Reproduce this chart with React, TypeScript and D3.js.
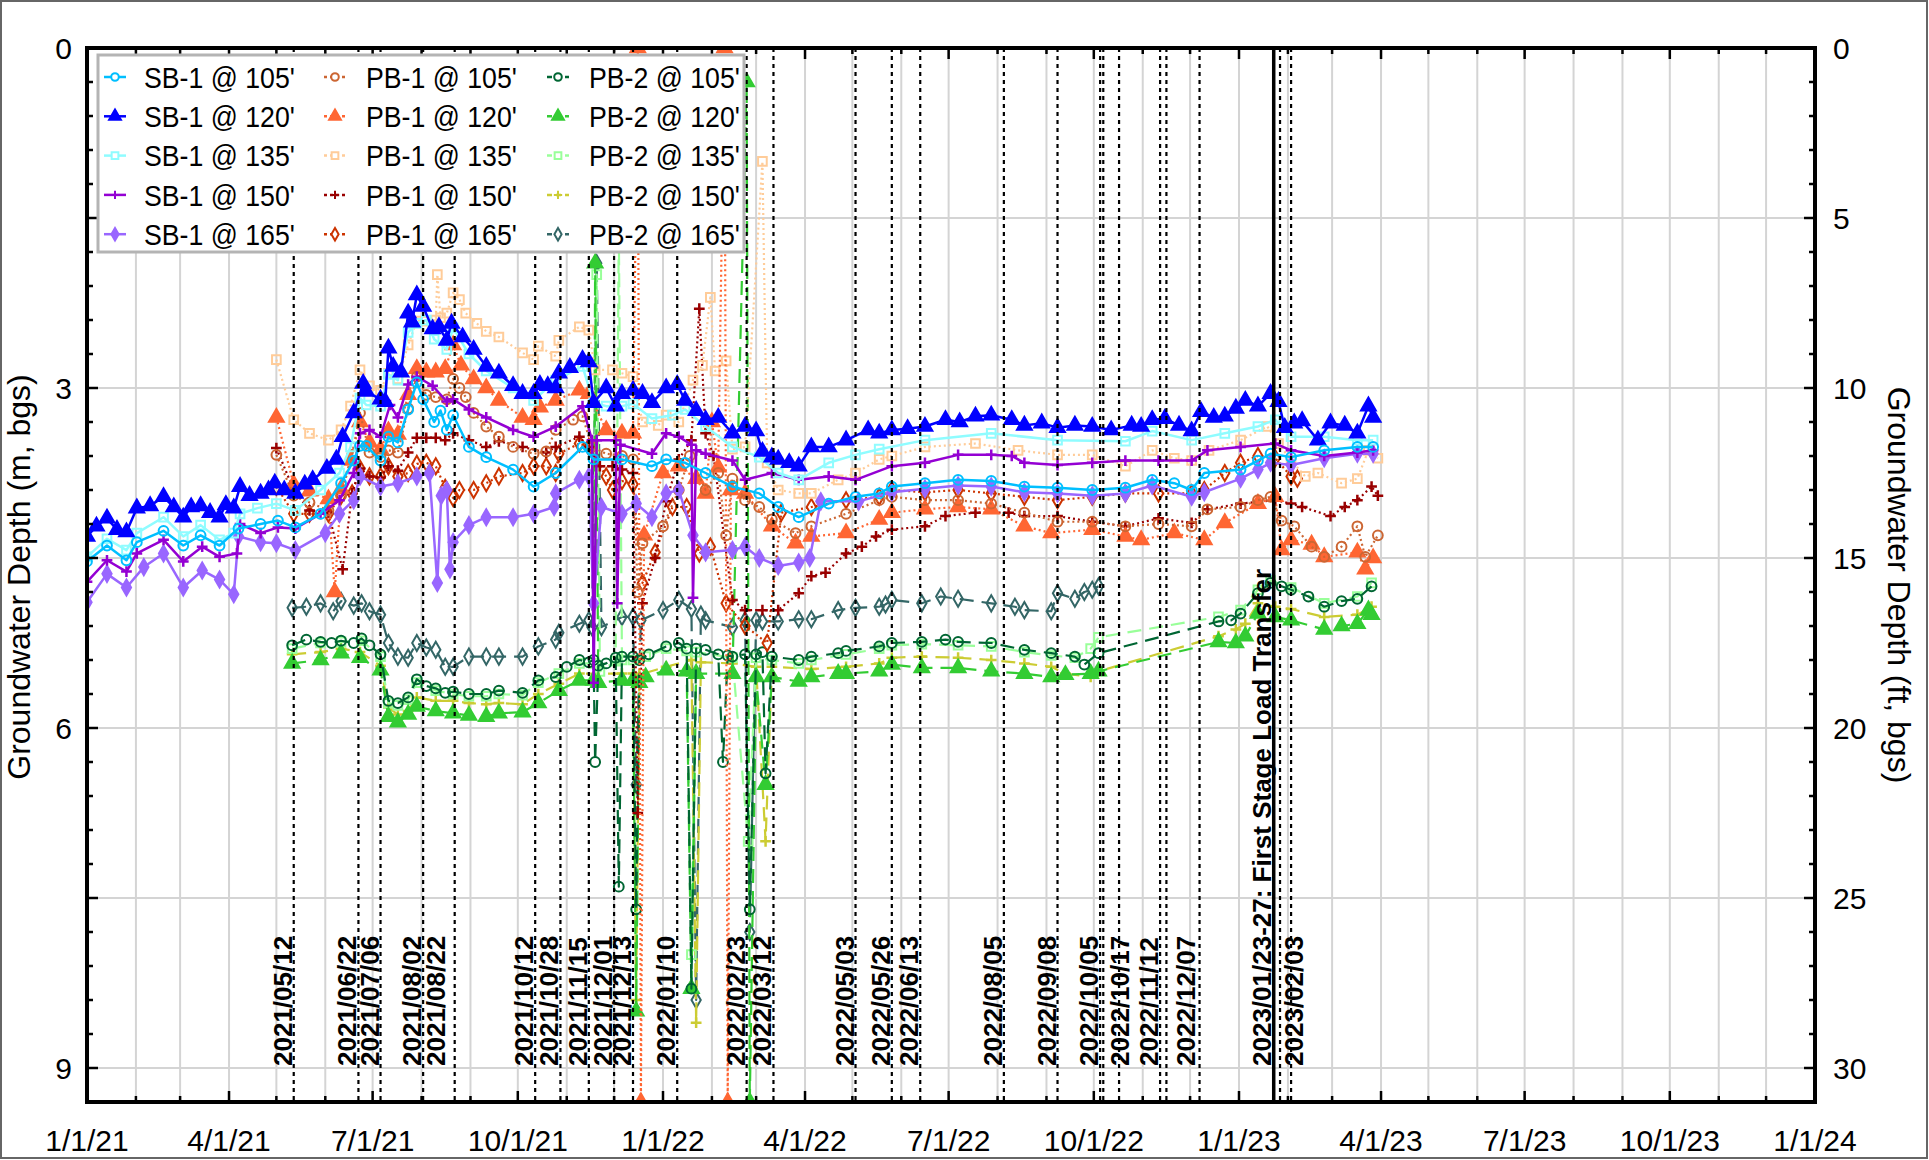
import React from "react";
import * as d3 from "d3";

// days since 2021-01-01, depth below ground surface (m)
const sb1_105: [number, number][] = [
  [0, 4.53], [12.7, 4.39], [25, 4.52], [31.6, 4.36], [48.5, 4.26], [61, 4.39], [72, 4.3], [84, 4.39], [96, 4.24],
  [110, 4.2], [121, 4.17], [132, 4.23], [148, 4.11], [161, 3.84], [169, 3.64], [173, 3.51], [177, 3.51], [186, 3.64],
  [191, 3.43], [197, 3.48], [203.5, 3.19], [209, 2.95], [213, 3.1], [220, 3.3], [224, 3.2], [228, 3.37], [232, 3.24],
  [242, 3.52], [253, 3.61], [270, 3.72], [283, 3.87], [297, 3.75], [314, 3.52], [321, 3.63], [339, 3.63], [358, 3.69],
  [367, 3.63], [379, 3.66], [392, 3.75], [409, 3.87], [426, 3.93], [438, 4.05], [451, 4.14], [470, 4.02], [487, 3.96],
  [502, 3.93], [510, 3.87], [531, 3.84], [552, 3.81], [573, 3.82], [594, 3.87], [615, 3.88], [637, 3.9], [658, 3.88],
  [675, 3.81], [689, 3.84], [700, 3.9], [708, 3.75], [731, 3.72], [742, 3.64], [750, 3.58], [763, 3.61], [784, 3.55],
  [805, 3.52], [815, 3.52],
];
const sb1_120: [number, number][] = [
  [0, 4.31], [6, 4.22], [12.7, 4.15], [19, 4.25], [25, 4.27], [31.6, 4.06], [40, 4.04], [48.5, 3.96], [55, 4.05],
  [61, 4.14], [66, 4.05], [72, 4.04], [78, 4.1], [84, 4.14], [88, 4.03], [93, 4.06], [97, 3.87], [103, 3.95], [110, 3.93],
  [115, 3.9], [119, 3.84], [125, 3.9], [132, 3.93], [138, 3.85], [143, 3.81], [152, 3.71], [158, 3.63], [162, 3.43],
  [169, 3.22], [175, 2.96], [177, 3.03], [186, 3.1], [189, 3.12], [191, 2.65], [194, 2.81], [199, 2.86], [203.5, 2.34],
  [206, 2.42], [209, 2.18], [213, 2.28], [219, 2.48], [223, 2.46], [228, 2.58], [231, 2.43], [238, 2.55], [245, 2.66],
  [253, 2.81], [261, 2.87], [270, 2.98], [276, 3.05], [283, 3.05], [287, 2.97], [292, 2.98], [297, 3.0], [299, 2.87],
  [306, 2.82], [314, 2.75], [318, 2.77], [321, 3.13], [329, 3.0], [335, 3.16], [339, 3.05], [346, 3.02], [352, 3.05],
  [358, 3.13], [367, 3.0], [374, 2.97], [379, 3.11], [386, 3.2], [392, 3.28], [400, 3.26], [409, 3.4], [417, 3.34],
  [424, 3.38], [428, 3.56], [434, 3.61], [438, 3.63], [445, 3.66], [451, 3.69], [459, 3.52], [470, 3.52], [481, 3.46],
  [495, 3.37], [502, 3.4], [510, 3.37], [520, 3.36], [531, 3.34], [544, 3.28], [553, 3.3], [563, 3.25], [573, 3.24],
  [586, 3.28], [594, 3.33], [605, 3.31], [615, 3.35], [626, 3.33], [637, 3.34], [649, 3.37], [662, 3.33], [668, 3.34],
  [675, 3.28], [683, 3.27], [692, 3.33], [700, 3.38], [706, 3.21], [714, 3.26], [721, 3.25], [728, 3.18], [734, 3.11],
  [742, 3.16], [750, 3.05], [755, 3.12], [759, 3.35], [765, 3.31], [770, 3.29], [780, 3.46], [788, 3.31], [797, 3.33],
  [805, 3.4], [812, 3.16], [815, 3.26],
];
const sb1_135: [number, number][] = [
  [0, 4.49], [12.7, 4.33], [25, 4.43], [31.6, 4.28], [48.5, 4.14], [61, 4.31], [72, 4.21], [84, 4.34], [93, 4.28],
  [97, 4.11], [108, 4.06], [120, 4.02], [132, 4.08], [148, 3.9], [160, 3.75], [167, 3.52], [173, 3.09], [177, 3.15],
  [186, 3.16], [191, 2.88], [197, 2.93], [203.5, 2.51], [209, 2.43], [215, 2.4], [220, 2.57], [228, 2.66], [232, 2.47],
  [242, 2.7], [253, 2.85], [270, 3.0], [283, 3.11], [297, 2.93], [314, 2.81], [321, 3.13], [329, 3.16], [339, 3.16],
  [346, 3.14], [358, 3.27], [371, 3.24], [379, 3.19], [392, 3.34], [409, 3.52], [426, 3.61], [438, 3.75], [451, 3.81],
  [470, 3.66], [487, 3.59], [502, 3.54], [531, 3.46], [573, 3.4], [615, 3.46], [658, 3.47], [675, 3.38], [700, 3.46],
  [721, 3.4], [742, 3.34], [753, 3.28], [763, 3.43], [784, 3.43], [805, 3.46], [815, 3.46],
];
const sb1_150: [number, number][] = [
  [0, 4.71], [12.7, 4.52], [25, 4.62], [31.6, 4.46], [48.5, 4.34], [61, 4.53], [73, 4.4], [84, 4.49], [95, 4.46],
  [97, 4.2], [110, 4.28], [121, 4.23], [132, 4.24], [148, 4.11], [160, 3.99], [169, 3.75], [173, 3.4], [179, 3.37],
  [186, 3.43], [192, 3.15], [197, 3.26], [203.5, 2.97], [209, 2.9], [219, 2.98], [228, 3.12], [232, 3.1], [242, 3.19],
  [253, 3.26], [270, 3.37], [283, 3.43], [297, 3.34], [314, 3.16], [320, 3.46], [321, 5.6], [323, 3.46], [335, 3.46],
  [336, 4.9], [338, 3.5], [358, 3.58], [367, 3.4], [375, 3.43], [383, 3.5], [384, 4.85], [386, 3.55], [392, 3.58],
  [409, 3.64], [417, 3.81], [434, 3.75], [451, 3.81], [470, 3.78], [487, 3.81], [510, 3.69], [531, 3.66], [552, 3.59],
  [573, 3.59], [586, 3.6], [594, 3.66], [615, 3.68], [637, 3.66], [658, 3.64], [679, 3.64], [700, 3.64], [710, 3.55],
  [731, 3.52], [753, 3.49], [763, 3.55], [784, 3.6], [805, 3.57], [815, 3.55],
];
const sb1_165: [number, number][] = [
  [0, 4.89], [12.7, 4.64], [25, 4.76], [36, 4.58], [48.5, 4.46], [61, 4.76], [73, 4.61], [84, 4.69], [93, 4.82],
  [96, 4.31], [110, 4.36], [120, 4.37], [132, 4.43], [151, 4.28], [160, 4.11], [169, 3.99], [173, 3.78], [186, 3.87],
  [197, 3.84], [209, 3.78], [217, 3.75], [222, 4.72], [224.5, 3.95], [228, 3.9], [230, 4.6], [232, 4.36], [242, 4.21],
  [253, 4.14], [270, 4.14], [283, 4.11], [296, 4.05], [297, 3.93], [312, 3.81], [318, 3.78], [321, 4.9], [326, 4.05],
  [339, 4.11], [348, 4.02], [358, 4.14], [367, 3.93], [375, 3.9], [384, 4.3], [392, 4.45], [409, 4.43], [417, 4.4],
  [426, 4.5], [438, 4.57], [451, 4.54], [458, 4.5], [465, 4.0], [489, 4.0], [510, 3.92], [531, 3.89], [552, 3.86],
  [573, 3.87], [594, 3.92], [615, 3.93], [637, 3.95], [658, 3.93], [675, 3.86], [700, 3.96], [708, 3.92], [731, 3.8],
  [742, 3.72], [750, 3.66], [763, 3.68], [784, 3.62], [805, 3.58], [815, 3.58],
];
const pb1_105: [number, number][] = [
  [120, 3.59], [131, 3.95], [141, 4.01], [153, 4.08], [161, 3.95], [168, 3.59], [173, 3.22], [179, 3.57], [186, 3.61],
  [191, 3.55], [197, 3.57], [203.5, 3.18], [209, 2.9], [215, 3.06], [221, 3.08], [228, 3.1], [232, 2.92], [236, 3.0],
  [240, 3.08], [245, 3.22], [253, 3.34], [261, 3.43], [270, 3.52], [283, 3.58], [291, 3.56], [297, 3.37], [308, 3.28],
  [314, 3.25], [320, 3.52], [329, 3.58], [339, 3.6], [346, 3.63], [349, 4.8], [352, 4.37], [365, 4.22], [375, 3.9],
  [382, 3.6], [392, 3.9], [400, 3.75], [405, 4.3], [409, 3.8], [417, 3.99], [426, 4.05], [434, 4.16], [449, 4.28],
  [459, 4.22], [481, 4.11], [502, 3.99], [510, 3.96], [531, 3.99], [552, 3.99], [573, 4.02], [594, 4.1], [615, 4.18],
  [637, 4.18], [658, 4.22], [679, 4.2], [700, 4.22], [710, 4.07], [731, 4.05], [742, 3.99], [750, 3.96], [757, 4.17],
  [765, 4.22], [776, 4.4], [784, 4.49], [795, 4.4], [805, 4.22], [810, 4.49], [818, 4.3],
];
const pb1_120: [number, number][] = [
  [120, 3.26], [131, 3.85], [141, 3.91], [153, 3.98], [157, 4.8], [161, 3.89], [167, 3.64], [173, 3.3], [179, 3.48],
  [186, 3.54], [191, 3.38], [197, 3.41], [203.5, 3.06], [209, 2.83], [215, 2.86], [221, 2.86], [227, 2.83], [232, 2.62],
  [237, 2.8], [245, 2.92], [253, 3.0], [261, 3.11], [276, 3.26], [283, 3.28], [287, 3.17], [297, 3.11], [312, 3.02],
  [318, 3.05], [329, 3.37], [339, 3.4], [346, 3.4], [349, 0.0], [351, 9.3], [353, 4.3], [365, 3.75], [375, 3.69],
  [386, 3.8], [392, 3.93], [396, 3.3], [400, 3.7], [404, 0.0], [406, 9.3], [408, 3.9], [417, 3.93], [434, 4.22],
  [449, 4.37], [459, 4.31], [481, 4.28], [502, 4.16], [510, 4.1], [531, 4.07], [552, 4.05], [573, 4.07], [594, 4.22],
  [611, 4.28], [637, 4.25], [658, 4.31], [668, 4.34], [689, 4.28], [708, 4.34], [721, 4.19], [742, 4.02], [753, 3.96],
  [757, 4.43], [763, 4.34], [776, 4.38], [784, 4.49], [805, 4.45], [810, 4.6], [815, 4.5],
];
const pb1_135: [number, number][] = [
  [120, 2.75], [131, 3.28], [141, 3.4], [153, 3.46], [161, 3.37], [167, 3.16], [173, 2.84], [179, 2.98], [186, 3.02],
  [191, 2.87], [197, 2.92], [203.5, 2.62], [209, 2.41], [215, 2.41], [221, 2.4], [222, 2.0], [224, 2.38], [228, 2.34],
  [232, 2.16], [236, 2.22], [240, 2.34], [247, 2.43], [253, 2.5], [261, 2.55], [276, 2.69], [283, 2.75], [286, 2.63],
  [297, 2.72], [299, 2.58], [312, 2.46], [318, 2.49], [322, 2.84], [333, 2.84], [339, 2.87], [346, 2.9], [352, 3.3],
  [362, 3.33], [367, 3.24], [375, 3.3], [384, 2.93], [390, 2.8], [395, 2.2], [398, 2.85], [405, 2.76], [409, 3.54],
  [417, 3.52], [428, 1.0], [431, 3.66], [438, 3.9], [451, 3.93], [459, 3.93], [476, 3.81], [487, 3.75], [502, 3.63],
  [510, 3.6], [531, 3.52], [563, 3.49], [590, 3.55], [615, 3.59], [637, 3.59], [658, 3.69], [675, 3.55], [689, 3.62],
  [700, 3.64], [711, 3.55], [731, 3.46], [748, 3.34], [755, 3.49], [763, 3.64], [772, 3.78], [780, 3.75], [795, 3.84],
  [805, 3.8], [812, 3.55], [818, 3.62],
];
const pb1_150: [number, number][] = [
  [120, 3.53], [131, 3.9], [141, 4.08], [153, 4.1], [162, 4.6], [168, 3.93], [173, 3.71], [179, 3.78], [186, 3.79],
  [191, 3.69], [197, 3.73], [203.5, 3.57], [209, 3.44], [215, 3.44], [221, 3.44], [227, 3.46], [232, 3.4], [242, 3.46],
  [253, 3.52], [261, 3.47], [276, 3.52], [291, 3.57], [297, 3.52], [312, 3.43], [318, 3.52], [325, 3.69], [333, 3.69],
  [339, 3.72], [346, 3.75], [349, 6.75], [352, 4.9], [360, 4.5], [367, 4.0], [375, 3.63], [383, 3.46], [388, 2.3],
  [392, 3.4], [397, 3.6], [409, 4.87], [417, 4.96], [428, 4.96], [438, 4.96], [451, 4.81], [459, 4.66], [468, 4.63],
  [481, 4.46], [491, 4.4], [500, 4.31], [510, 4.25], [531, 4.22], [544, 4.13], [563, 4.1], [584, 4.1], [594, 4.13],
  [615, 4.13], [637, 4.18], [658, 4.22], [679, 4.15], [700, 4.19], [710, 4.07], [731, 4.02], [753, 3.99], [763, 4.02],
  [770, 4.05], [788, 4.13], [797, 4.05], [805, 3.99], [814, 3.87], [818, 3.95],
];
const pb1_165: [number, number][] = [
  [120, 3.87], [131, 4.11], [141, 4.11], [153, 4.11], [161, 3.95], [168, 3.93], [173, 3.71], [179, 3.78], [186, 3.78],
  [191, 3.69], [197, 3.78], [203.5, 3.75], [209, 3.67], [215, 3.66], [221, 3.69], [227, 3.88], [232, 3.97], [236, 3.9],
  [245, 3.9], [253, 3.84], [261, 3.78], [276, 3.75], [283, 3.69], [291, 3.69], [297, 3.75], [299, 3.58], [312, 3.49],
  [318, 3.52], [329, 3.78], [333, 3.9], [339, 3.82], [346, 3.85], [352, 4.72], [360, 4.45], [371, 4.05], [380, 4.05],
  [388, 4.46], [395, 4.4], [405, 4.9], [417, 5.1], [431, 5.25], [440, 4.1], [459, 4.05], [481, 3.99], [502, 3.96],
  [510, 3.9], [531, 3.92], [552, 3.9], [573, 3.93], [594, 3.96], [615, 3.99], [637, 3.96], [658, 3.93], [679, 3.93],
  [700, 3.93], [708, 3.9], [721, 3.75], [731, 3.66], [742, 3.6], [753, 3.62], [763, 3.78], [767, 3.8],
];
const pb2_105: [number, number][] = [
  [130, 5.27], [139, 5.22], [148, 5.24], [155, 5.25], [161, 5.23], [169, 5.25], [174, 5.21], [179, 5.27], [186, 5.35],
  [191, 5.76], [197, 5.78], [203.5, 5.73], [209, 5.57], [215, 5.63], [221, 5.65], [227, 5.69], [232, 5.68], [242, 5.7],
  [253, 5.7], [261, 5.67], [276, 5.69], [286, 5.58], [297, 5.55], [304, 5.46], [312, 5.4], [318, 5.42], [321, 5.4],
  [322, 6.3], [324, 5.45], [329, 5.43], [335, 5.38], [337, 7.4], [339, 5.37], [346, 5.37], [348, 7.6], [350, 5.4],
  [356, 5.35], [367, 5.28], [375, 5.25], [380, 5.3], [383, 8.3], [386, 5.3], [392, 5.31], [400, 5.35], [403, 6.3],
  [406, 5.36], [409, 5.37], [417, 5.35], [420, 7.6], [424, 5.35], [428, 5.33], [430, 6.4], [434, 5.37], [451, 5.4],
  [459, 5.37], [476, 5.34], [481, 5.32], [502, 5.28], [510, 5.25], [529, 5.24], [544, 5.22], [552, 5.24], [573, 5.25],
  [594, 5.31], [611, 5.34], [626, 5.37], [632, 5.44], [641, 5.34], [717, 5.06], [725, 5.05], [731, 4.99], [742, 4.81],
  [750, 4.72], [757, 4.75], [763, 4.78], [774, 4.84], [784, 4.93], [795, 4.88], [805, 4.86], [814, 4.75],
];
const pb2_120: [number, number][] = [
  [130, 5.43], [148, 5.4], [161, 5.34], [173, 5.38], [186, 5.49], [191, 5.9], [197, 5.95], [203.5, 5.88], [209, 5.81],
  [221, 5.85], [232, 5.87], [242, 5.89], [253, 5.9], [261, 5.87], [276, 5.86], [286, 5.78], [299, 5.67], [312, 5.58],
  [321, 5.58], [322, 1.9], [324, 5.6], [339, 5.58], [346, 5.58], [348, 8.5], [350, 5.6], [354, 5.55], [367, 5.49],
  [380, 5.5], [383, 8.3], [386, 5.52], [409, 5.52], [418, 0.3], [420, 9.3], [424, 5.55], [430, 6.5], [434, 5.55],
  [451, 5.59], [459, 5.55], [476, 5.52], [481, 5.52], [502, 5.5], [510, 5.44], [529, 5.47], [552, 5.47], [573, 5.5],
  [594, 5.52], [611, 5.55], [620, 5.53], [636, 5.52], [641, 5.5], [717, 5.24], [728, 5.25], [734, 5.19], [742, 4.99],
  [753, 5.02], [763, 5.05], [784, 5.13], [795, 5.1], [805, 5.08], [812, 4.96], [814, 5.0],
];
const pb2_135: [number, number][] = [
  [130, 5.3], [148, 5.25], [161, 5.24], [174, 5.23], [186, 5.37], [191, 5.78], [197, 5.8], [203.5, 5.75], [209, 5.6],
  [221, 5.67], [232, 5.7], [242, 5.72], [253, 5.72], [261, 5.7], [276, 5.71], [286, 5.6], [299, 5.52], [312, 5.43],
  [321, 5.43], [323, 2.0], [325, 5.5], [335, 5.41], [337, 1.6], [339, 5.4], [346, 5.4], [354, 5.37], [367, 5.3],
  [380, 5.32], [383, 8.0], [386, 5.33], [409, 5.38], [419, 7.0], [424, 5.38], [434, 5.4], [451, 5.43], [459, 5.4],
  [481, 5.35], [502, 5.3], [510, 5.27], [529, 5.26], [552, 5.27], [573, 5.28], [594, 5.33], [611, 5.36], [626, 5.38],
  [636, 5.3], [641, 5.2], [717, 5.02], [731, 4.96], [742, 4.78], [750, 4.7], [763, 4.76], [784, 4.9], [805, 4.84],
  [814, 4.72],
];
const pb2_150: [number, number][] = [
  [130, 5.35], [148, 5.33], [161, 5.3], [173, 5.33], [186, 5.45], [191, 5.82], [197, 5.88], [203.5, 5.85], [209, 5.73],
  [221, 5.76], [232, 5.76], [242, 5.78], [253, 5.79], [261, 5.78], [276, 5.79], [286, 5.7], [299, 5.61], [312, 5.52],
  [339, 5.52], [346, 5.52], [348, 8.4], [350, 5.53], [367, 5.46], [383, 5.4], [386, 8.6], [389, 5.42], [409, 5.43],
  [424, 5.46], [430, 7.0], [434, 5.46], [459, 5.48], [481, 5.46], [502, 5.43], [510, 5.38], [529, 5.37], [552, 5.38],
  [573, 5.4], [594, 5.43], [611, 5.46], [620, 5.52], [636, 5.55], [641, 5.5], [717, 5.19], [728, 5.13], [734, 5.08],
  [742, 4.9], [753, 4.93], [763, 4.95], [784, 5.02], [805, 5.0], [814, 4.93],
];
const pb2_165: [number, number][] = [
  [130, 4.94], [139, 4.93], [148, 4.9], [156, 4.97], [161, 4.88], [169, 4.92], [174, 4.9], [179, 4.97], [186, 5.0],
  [191, 5.25], [197, 5.37], [203.5, 5.38], [209, 5.25], [215, 5.29], [221, 5.31], [227, 5.46], [232, 5.46], [242, 5.37],
  [253, 5.37], [261, 5.37], [276, 5.37], [286, 5.28], [297, 5.22], [299, 5.16], [312, 5.08], [318, 5.05], [320, 5.11],
  [323, 1.9], [326, 5.11], [339, 5.02], [346, 5.02], [348, 6.5], [351, 5.05], [365, 4.96], [375, 4.87], [383, 4.95],
  [386, 8.4], [389, 5.0], [392, 5.05], [409, 5.11], [417, 5.05], [420, 7.8], [424, 5.05], [428, 5.06], [438, 5.06],
  [451, 5.04], [459, 5.04], [476, 4.96], [487, 4.94], [502, 4.93], [506, 4.91], [510, 4.87], [529, 4.9], [541, 4.84],
  [552, 4.86], [573, 4.9], [588, 4.93], [594, 4.96], [611, 4.97], [615, 4.81], [626, 4.86], [632, 4.8], [637, 4.78],
  [641, 4.75],
];

const seriesNames = [
  "SB-1 @ 105'", "SB-1 @ 120'", "SB-1 @ 135'", "SB-1 @ 150'", "SB-1 @ 165'",
  "PB-1 @ 105'", "PB-1 @ 120'", "PB-1 @ 135'", "PB-1 @ 150'", "PB-1 @ 165'",
  "PB-2 @ 105'", "PB-2 @ 120'", "PB-2 @ 135'", "PB-2 @ 150'", "PB-2 @ 165'",
];
const seriesData = [
  sb1_105, sb1_120, sb1_135, sb1_150, sb1_165,
  pb1_105, pb1_120, pb1_135, pb1_150, pb1_165,
  pb2_105, pb2_120, pb2_135, pb2_150, pb2_165,
];
const seriesColors = [
  "#00bfff", "#0000ff", "#8ffcff", "#9400d3", "#9966ff",
  "#cc6633", "#ff6633", "#ffcc99", "#990000", "#cc3300",
  "#006633", "#33cc33", "#99ff99", "#cccc33", "#336666",
];
const seriesSymbols = ["circle", "triangle", "square", "plus", "diamond"];

// dashed reference lines and their labels
const eventLines = [
  "2021/05/12", "2021/06/22", "2021/07/06", "2021/08/02", "2021/08/22", "2021/10/12", "2021/10/28",
  "2021/11/15", "2021/12/01", "2021/12/13", "2022/01/10", "2022/02/23", "2022/03/12", "2022/05/03",
  "2022/05/26", "2022/06/13", "2022/08/05", "2022/09/08", "2022/10/05", "2022/10/07", "2022/10/17",
  "2022/11/12", "2022/11/16", "2022/12/07", "2023/01/27", "2023/02/03",
];
const eventLabels = [
  "2021/05/12", "2021/06/22", "2021/07/06", "2021/08/02", "2021/08/22", "2021/10/12", "2021/10/28",
  "2021/11/15", "2021/12/01", "2021/12/13", "2022/01/10", "2022/02/23", "2022/03/12", "2022/05/03",
  "2022/05/26", "2022/06/13", "2022/08/05", "2022/09/08", "2022/10/05", "2022/10/17", "2022/11/12",
  "2022/12/07", "2023/02/03",
];
const loadTransferDate = "2023/01/23";
const loadTransferLabel = "2023/01/23-27: First Stage Load Transfer";

const leftTicks = [0, 3, 6, 9];
const rightTicks = [0, 5, 10, 15, 20, 25, 30];

const W = 1929;
const H = 1160;
const PL = 87;
const PR = 1815;
const PT = 48;
const PB = 1102;
const FONT = "'Liberation Sans', Arial, Helvetica, sans-serif";

const labelNudge: Record<string, number> = {
  "2021/08/22": -8,
  "2022/10/17": 12,
  "2022/12/07": -3,
  "2023/02/03": 14,
};

const start = new Date(2021, 0, 1);
const end = new Date(2024, 0, 1);
const parse = d3.timeParse("%Y/%m/%d");

function markerPath(kind: string, size: number) {
  if (kind === "plus") {
    const r = Math.sqrt(size) * 0.62;
    return `M${-r},0H${r}M0,${-r}V${r}`;
  }
  const t =
    kind === "circle" ? d3.symbolCircle :
    kind === "triangle" ? d3.symbolTriangle :
    kind === "square" ? d3.symbolSquare : d3.symbolDiamond;
  return d3.symbol(t, size)() as string;
}

function dashFor(group: number) {
  if (group === 1) return "2,3";
  if (group === 2) return "14,8";
  return undefined;
}

export default function App() {
  const x = d3.scaleTime().domain([start, end]).range([PL, PR]);
  const y = d3.scaleLinear().domain([0, 9.3]).range([PT, PB]);
  const yFt = d3.scaleLinear().domain([0, 31]).range([PT, PB]);

  const dayX = (d: number) => x(d3.timeHour.offset(start, d * 24));

  const line = d3
    .line<[number, number]>()
    .x((d) => dayX(d[0]))
    .y((d) => y(d[1]));

  const months = d3.timeMonth.range(start, d3.timeDay.offset(end, 1));
  const fmt = d3.timeFormat("%-m/%-d/%y");
  const minorY = d3.range(0, 31).map((f) => f * 0.3);

  const order = d3.range(seriesData.length).reverse();

  return (
    <svg
      width={W}
      height={H}
      style={{ position: "absolute", left: 0, top: 0, background: "#fff" }}
      fontFamily={FONT}
    >
      <rect x={1} y={1} width={W - 3} height={H - 3} fill="#fff" stroke="#666" strokeWidth={2} />
      <defs>
        <clipPath id="plot-clip">
          <rect x={PL} y={PT} width={PR - PL} height={PB - PT} />
        </clipPath>
      </defs>

      {/* grid */}
      <g stroke="#d4d4d4" strokeWidth={2}>
        {months.map((m, i) => (
          <line key={i} x1={x(m)} x2={x(m)} y1={PT} y2={PB} />
        ))}
        {d3.range(1, 7).map((k) => (
          <line key={"h" + k} x1={PL} x2={PR} y1={y(k * 1.5)} y2={y(k * 1.5)} />
        ))}
      </g>

      {/* data */}
      <g clipPath="url(#plot-clip)">
        {order.map((si) => {
          const group = Math.floor(si / 5);
          const data = seriesData[si];
          const color = seriesColors[si];
          const sym = seriesSymbols[si % 5];
          const filled = sym === "triangle" || (sym === "diamond" && group === 0);
          const mp = markerPath(sym, sym === "triangle" ? 95 : 75);
          return (
            <g key={si}>
              <path
                d={line(data) ?? ""}
                fill="none"
                stroke={color}
                strokeWidth={group === 0 ? 2.5 : 2.2}
                strokeDasharray={dashFor(group)}
                strokeLinejoin="round"
              />
              {data.map((d, i) => (
                <path
                  key={i}
                  d={mp}
                  transform={`translate(${dayX(d[0])},${y(d[1])})`}
                  fill={filled ? color : "none"}
                  stroke={color}
                  strokeWidth={sym === "plus" ? 2.5 : 2}
                />
              ))}
            </g>
          );
        })}
      </g>

      {/* event lines */}
      <g stroke="#000" strokeWidth={2.2} strokeDasharray="4,4">
        {eventLines.map((d) => {
          const xx = x(parse(d) as Date);
          return <line key={d} x1={xx} x2={xx} y1={PT} y2={PB} />;
        })}
      </g>
      <line
        x1={x(parse(loadTransferDate) as Date)}
        x2={x(parse(loadTransferDate) as Date)}
        y1={PT}
        y2={PB}
        stroke="#000"
        strokeWidth={3.5}
      />
      <g fontSize={26} fontWeight="bold" fill="#000">
        {eventLabels.map((d) => {
          const xx = x(parse(d) as Date) - 2 + (labelNudge[d] ?? 0);
          return (
            <text key={d} transform={`translate(${xx},1066) rotate(-90)`}>
              {d}
            </text>
          );
        })}
        <text transform={`translate(${x(parse(loadTransferDate) as Date) - 3},1066) rotate(-90)`}>
          {loadTransferLabel}
        </text>
      </g>

      {/* frame and ticks */}
      <g stroke="#000" strokeWidth={2.5}>
        {months.map((m, i) => {
          const len = m.getMonth() % 3 === 0 ? 11 : 6;
          return (
            <g key={i}>
              <line x1={x(m)} x2={x(m)} y1={PB} y2={PB - len} />
              <line x1={x(m)} x2={x(m)} y1={PT} y2={PT + len} />
            </g>
          );
        })}
        {minorY.map((v, i) => {
          const len = i % 5 === 0 ? 11 : 6;
          return (
            <g key={i}>
              <line x1={PL} x2={PL + len} y1={y(v)} y2={y(v)} />
              <line x1={PR} x2={PR - len} y1={yFt(i)} y2={yFt(i)} />
            </g>
          );
        })}
      </g>
      <rect x={PL} y={PT} width={PR - PL} height={PB - PT} fill="none" stroke="#000" strokeWidth={4} />

      <g fontSize={30} fill="#000">
        {leftTicks.map((v) => (
          <text key={v} x={72} y={y(v)} dy="0.36em" textAnchor="end">
            {v}
          </text>
        ))}
        {rightTicks.map((v) => (
          <text key={v} x={1833} y={yFt(v)} dy="0.36em" textAnchor="start">
            {v}
          </text>
        ))}
        {months
          .filter((m) => m.getMonth() % 3 === 0)
          .map((m, i) => (
            <text key={i} x={x(m)} y={1151} textAnchor="middle">
              {fmt(m)}
            </text>
          ))}
        <text transform="translate(30,577) rotate(-90)" textAnchor="middle" fontSize={32}>
          Groundwater Depth (m, bgs)
        </text>
        <text transform="translate(1888,585) rotate(90)" textAnchor="middle" fontSize={32}>
          Groundwater Depth (ft, bgs)
        </text>
      </g>

      {/* legend */}
      <g>
        <rect x={98} y={55} width={646} height={197} fill="#fff" stroke="#b4b4b4" strokeWidth={3} />
        {seriesNames.map((name, si) => {
          const group = Math.floor(si / 5);
          const row = si % 5;
          const lx = [104, 324, 547][group];
          const tx = [144, 366, 589][group];
          const cy = 77 + row * 39.3;
          const color = seriesColors[si];
          const sym = seriesSymbols[row];
          const filled = sym === "triangle" || (sym === "diamond" && group === 0);
          return (
            <g key={name}>
              <line
                x1={lx}
                x2={lx + 22}
                y1={cy}
                y2={cy}
                stroke={color}
                strokeWidth={2.5}
                strokeDasharray={group === 1 ? "3,3" : group === 2 ? "5,4" : undefined}
              />
              <path
                d={markerPath(sym, sym === "triangle" ? 60 : 45)}
                transform={`translate(${lx + 11},${cy})`}
                fill={filled ? color : "#fff"}
                stroke={color}
                strokeWidth={2}
              />
              <text
                transform={`translate(${tx},${cy}) scale(0.89,1)`}
                dy="0.36em"
                fontSize={30}
                fill="#000"
              >
                {name}
              </text>
            </g>
          );
        })}
      </g>
    </svg>
  );
}
